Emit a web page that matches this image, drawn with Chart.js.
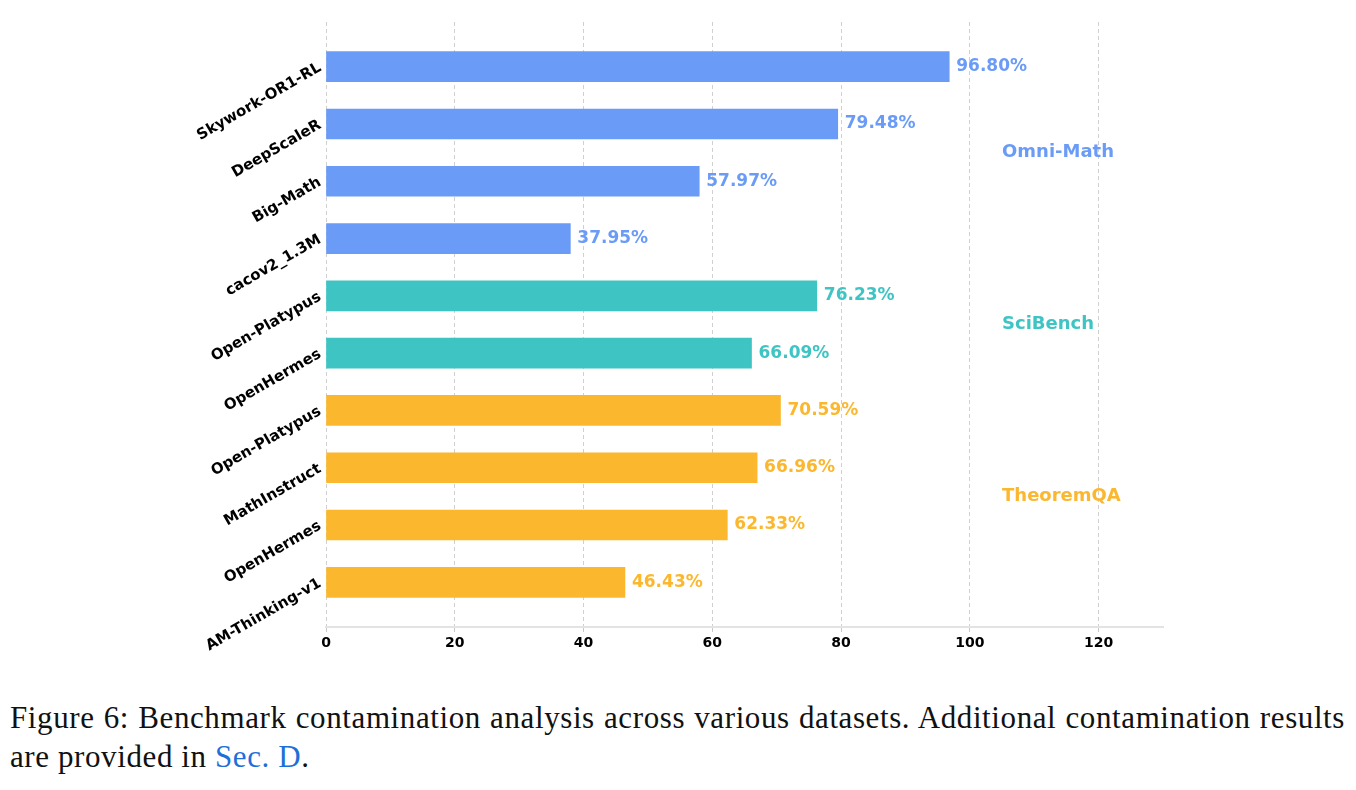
<!DOCTYPE html>
<html>
<head>
<meta charset="utf-8">
<script src="https://cdn.jsdelivr.net/npm/chart.js@4.4.0/dist/chart.umd.min.js"></script>
<style>
  body { margin: 0; background: #fff; width: 1356px; height: 790px; overflow: hidden; }
  #wrap { position: absolute; left: 0; top: 0; width: 1356px; height: 690px; }
  #caption { position: absolute; left: 10px; top: 698px; width: 1335px;
    font-family: "Liberation Serif", serif; font-size: 31px; line-height: 39px; color: #111;
    letter-spacing: 0.6px; }
  #caption .l1 { text-align: justify; text-align-last: justify; white-space: nowrap; }
  #caption a { color: #1f6fd8; text-decoration: none; }
</style>
</head>
<body>
<div id="wrap"><canvas id="grafica"></canvas></div>
<div id="caption">
  <div class="l1">Figure 6: Benchmark contamination analysis across various datasets. Additional contamination results</div>
  <div>are provided in <a>Sec. D</a>.</div>
</div>
<script>
const datasets_ = ['Skywork-OR1-RL', 'DeepScaleR', 'Big-Math', 'cacov2_1.3M', 'Open-Platypus',
  'OpenHermes', 'Open-Platypus', 'MathInstruct', 'OpenHermes', 'AM-Thinking-v1'];
const valores = [96.80, 79.48, 57.97, 37.95, 76.23, 66.09, 70.59, 66.96, 62.33, 46.43];
const grupo = [0, 0, 0, 0, 1, 1, 2, 2, 2, 2];
const benchmarks = ['Omni-Math', 'SciBench', 'TheoremQA'];
const ticksX = [0, 20, 40, 60, 80, 100, 120];

const colores = ['#6a9bf7', '#3fc4c4', '#fbb72e'];
const fuente = '"DejaVu Sans", sans-serif';

const etiquetas = {
  id: 'etiquetas',
  afterDatasetsDraw(chart) {
    const ctx = chart.ctx;
    const xs = chart.scales.x, ys = chart.scales.y;
    const barras = chart.getDatasetMeta(0).data;
    ctx.save();
    ctx.font = 'bold 17px ' + fuente;
    ctx.textBaseline = 'middle';
    ctx.textAlign = 'left';
    barras.forEach((b, i) => {
      ctx.fillStyle = colores[grupo[i]];
      ctx.fillText(valores[i].toFixed(2) + '%', b.x + 7, b.y);
    });
    ctx.font = 'bold 18px ' + fuente;
    benchmarks.forEach((nombre, g) => {
      const idx = grupo.map((v, i) => v === g ? i : -1).filter(i => i >= 0);
      const y = idx.reduce((s, i) => s + ys.getPixelForValue(i), 0) / idx.length;
      ctx.fillStyle = colores[g];
      ctx.fillText(nombre, xs.getPixelForValue(105), y);
    });
    ctx.restore();
  }
};

new Chart(document.getElementById('grafica'), {
  type: 'bar',
  data: {
    datasets: [{
      data: valores.map((v, i) => ({ x: v, y: i })),
      backgroundColor: grupo.map(g => colores[g]),
      borderWidth: 0,
      barThickness: 30
    }]
  },
  options: {
    indexAxis: 'y',
    responsive: true,
    maintainAspectRatio: false,
    animation: false,
    layout: { padding: { top: 22, right: 193, left: 0, bottom: 0 } },
    plugins: { legend: { display: false }, tooltip: { enabled: false } },
    scales: {
      x: {
        type: 'linear',
        min: 0,
        max: 130,
        afterBuildTicks: s => { s.ticks = ticksX.map(v => ({ value: v })); },
        afterFit: s => { s.height = 63; },
        grid: { color: '#d0d0d0', lineWidth: 1, tickLength: 5, tickColor: '#c8c8c8' },
        border: { display: true, color: '#e3e3e3', width: 2, dash: [4, 3] },
        ticks: { color: '#000', font: { family: fuente, weight: 'bold', size: 14 }, padding: 3,
          maxRotation: 0 }
      },
      y: {
        type: 'linear',
        reverse: true,
        offset: false,
        min: -0.78,
        max: 9.78,
        afterBuildTicks: s => { s.ticks = datasets_.map((_, i) => ({ value: i })); },
        afterFit: s => { s.width = 326; },
        grid: { display: false, drawTicks: false },
        border: { display: false },
        ticks: {
          color: '#000',
          font: { family: fuente, weight: 'bold', size: 15 },
          minRotation: 30,
          maxRotation: 30,
          padding: 6,
          autoSkip: false,
          callback: v => datasets_[v]
        }
      }
    }
  },
  plugins: [etiquetas]
});
</script>
</body>
</html>
